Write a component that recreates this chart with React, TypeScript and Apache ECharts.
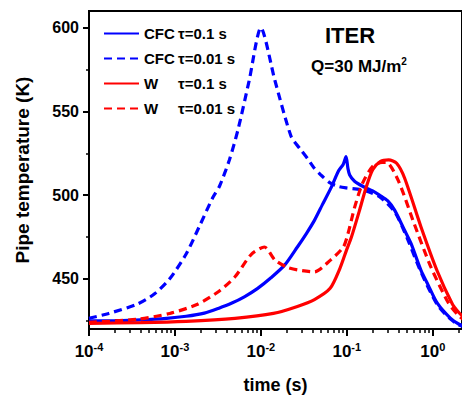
import React, { useEffect, useRef } from "react";
import * as echarts from "echarts";

// ---- data (time in s, temperature in K) ----
const cfc01Time = [0.0001, 0.0002, 0.0004, 0.0008, 0.00135, 0.0022, 0.0032, 0.0046, 0.0065, 0.0091, 0.0131, 0.019, 0.0266, 0.034, 0.042, 0.052, 0.065, 0.08, 0.091, 0.098, 0.103, 0.108, 0.123, 0.153, 0.2, 0.24, 0.3, 0.36, 0.47, 0.56, 0.73, 0.88, 1.13, 1.6, 2.0, 2.3];
const cfc01Temp = [424.8, 425.0, 425.5, 426.4, 427.6, 429.5, 432.3, 435.5, 439.4, 444.1, 450.6, 458.3, 469, 477.2, 484.9, 494.3, 504, 514.4, 518.5, 523, 516, 512, 508.3, 505.3, 502.5, 500, 496.5, 491, 479, 471, 455, 446.5, 435.4, 426.5, 423, 422];

const cfc001Time = [0.0001, 0.00017, 0.00037, 0.00058, 0.00087, 0.00135, 0.0019, 0.00275, 0.0033, 0.0043, 0.0054, 0.0073, 0.01, 0.0146, 0.0225, 0.0282, 0.0347, 0.041, 0.0515, 0.064, 0.0798, 0.099, 0.153, 0.24, 0.36, 0.47, 0.73, 1.13, 1.6, 2.0, 2.3];
const cfc001Temp = [426.4, 429.3, 435, 441, 450, 464.8, 480.7, 498.4, 505.3, 521, 538.8, 568.3, 600, 568.3, 535, 528, 522, 516.7, 511.4, 507.3, 505.2, 504.3, 503, 499, 490, 478, 454, 434.5, 426, 422.5, 421.5];

const w01Time = [0.0001, 0.0004, 0.00135, 0.005, 0.014, 0.0266, 0.042, 0.064, 0.083, 0.099, 0.113, 0.14, 0.167, 0.2, 0.247, 0.307, 0.38, 0.47, 0.73, 1.13, 1.69, 2.0, 2.3];
const w01Temp = [423.4, 423.8, 424.6, 426.4, 429.3, 433.5, 437.6, 444.3, 456.1, 467, 474.8, 490.6, 504.3, 515.1, 520.1, 521, 519, 510.2, 481, 454.5, 435, 430, 427];

const w001Time = [0.0001, 0.00037, 0.00087, 0.0018, 0.0032, 0.005, 0.0078, 0.011, 0.0146, 0.02, 0.0266, 0.042, 0.064, 0.091, 0.103, 0.123, 0.153, 0.2, 0.257, 0.29, 0.4, 0.61, 0.95, 1.53, 2.0, 2.3];
const w001Temp = [424, 425.8, 429.3, 434.6, 442.3, 451.2, 464.8, 469, 461.2, 457, 455.3, 454.1, 461, 468.9, 476.8, 492.5, 507.3, 517.2, 519.5, 519.5, 508.3, 482.7, 457.1, 435.4, 428, 425.5];

const seriesNames = ["CFC τ=0.1 s", "CFC τ=0.01 s", "W τ=0.1 s", "W τ=0.01 s"];

// ---- axes ----
const xMajorTicks = [0.0001, 0.001, 0.01, 0.1, 1];
const xMinorMultipliers = [2, 3, 4, 5, 6, 7, 8, 9];
const yMajorTicks = [450, 500, 550, 600];
const yMinorTicks = [425, 475, 525, 575];
const xMin = 0.0001;
const xMax = 2.19;
const yMin = 420;
const yMax = 610;

const FONT = "'Liberation Sans', Arial, Helvetica, sans-serif";
const BLUE = "#0000ff";
const RED = "#ff0000";

function pairs(t: number[], v: number[]) {
  return t.map((x, i) => [x, v[i]]);
}

export default function App() {
  const ref = useRef<HTMLDivElement>(null);

  useEffect(() => {
    if (!ref.current) return;
    const chart = echarts.init(ref.current, null, { renderer: "svg" });

    const xMinorTicks: number[] = [];
    xMajorTicks.forEach((d) => {
      xMinorMultipliers.forEach((m) => {
        const v = d * m;
        if (v < xMax) xMinorTicks.push(v);
      });
    });

    const dash = [8, 5];
    const mk = (name: string, data: number[][], color: string, dashed: boolean) => ({
      name,
      type: "line",
      xAxisIndex: 0,
      yAxisIndex: 0,
      data,
      symbol: "none",
      showSymbol: false,
      smooth: 0.25,
      lineStyle: { color, width: 3.2, type: dashed ? dash : "solid" },
      itemStyle: { color },
    });

    chart.setOption({
      animation: false,
      backgroundColor: "#ffffff",
      textStyle: { fontFamily: FONT },
      grid: {
        left: 89,
        top: 11,
        bottom: 66.5,
        right: -10,
        show: true,
        borderColor: "#000",
        borderWidth: 2,
        backgroundColor: "transparent",
      },
      legend: {
        orient: "vertical",
        left: 98,
        top: 21,
        itemWidth: 35,
        itemHeight: 14,
        itemGap: 10,
        data: seriesNames,
        itemStyle: { opacity: 0, color: "transparent", borderWidth: 0 },
        textStyle: {
          color: "#000",
          fontSize: 15,
          fontWeight: "bold",
          fontFamily: FONT,
          rich: {
            m: { width: 34, fontSize: 15, fontWeight: "bold", fontFamily: FONT, color: "#000" },
            v: { fontSize: 15, fontWeight: "bold", fontFamily: FONT, color: "#000" },
          },
        },
        formatter: (name: string) => {
          const i = name.indexOf(" ");
          return `{m|${name.slice(0, i)}}{v|${name.slice(i + 1)}}`;
        },
      },
      xAxis: [
        {
          type: "log",
          logBase: 10,
          min: xMin,
          max: xMax,
          position: "bottom",
          name: "time (s)",
          nameLocation: "middle",
          nameGap: 47,
          nameTextStyle: { fontSize: 18, fontWeight: "bold", color: "#000", fontFamily: FONT },
          axisLine: { show: true, onZero: false, lineStyle: { color: "#000", width: 2 } },
          axisTick: { show: true, inside: false, length: 7, customValues: xMajorTicks, lineStyle: { color: "#000", width: 2 } },
          axisLabel: {
            show: true,
            margin: 12,
            customValues: xMajorTicks,
            formatter: (v: number) => `{b|10}{s|${Math.round(Math.log10(v))}}`,
            rich: {
              b: { fontSize: 17, fontWeight: "bold", lineHeight: 20, color: "#000", fontFamily: FONT },
              s: { fontSize: 11, fontWeight: "bold", lineHeight: 12, verticalAlign: "top", color: "#000", fontFamily: FONT },
            },
          },
          splitLine: { show: false },
          minorTick: { show: false },
        },
        {
          type: "log",
          logBase: 10,
          min: xMin,
          max: xMax,
          position: "bottom",
          axisLine: { show: false },
          axisTick: { show: true, inside: false, length: 4, customValues: xMinorTicks, lineStyle: { color: "#000", width: 1.5 } },
          axisLabel: { show: false },
          splitLine: { show: false },
        },
      ],
      yAxis: [
        {
          type: "value",
          min: yMin,
          max: yMax,
          position: "left",
          name: "Pipe temperature (K)",
          nameLocation: "middle",
          nameGap: 57,
          nameTextStyle: { fontSize: 19, fontWeight: "bold", color: "#000", fontFamily: FONT },
          axisLine: { show: true, onZero: false, lineStyle: { color: "#000", width: 2 } },
          axisTick: { show: true, inside: false, length: 6, customValues: yMajorTicks, lineStyle: { color: "#000", width: 2 } },
          axisLabel: {
            show: true,
            margin: 10,
            customValues: yMajorTicks,
            fontSize: 16,
            fontWeight: "bold",
            color: "#000",
            fontFamily: FONT,
          },
          splitLine: { show: false },
        },
        {
          type: "value",
          min: yMin,
          max: yMax,
          position: "left",
          axisLine: { show: false },
          axisTick: { show: true, inside: false, length: 3, customValues: yMinorTicks, lineStyle: { color: "#000", width: 1.5 } },
          axisLabel: { show: false },
          splitLine: { show: false },
        },
      ],
      graphic: [
        {
          type: "text",
          x: 350,
          y: 35,
          style: {
            text: "ITER",
            fill: "#000",
            font: `bold 22px ${FONT}`,
            align: "center",
            verticalAlign: "middle",
            textAlign: "center",
            textVerticalAlign: "middle",
          },
        },
        {
          type: "text",
          x: 359,
          y: 66,
          style: {
            text: "{a|Q=30 MJ/m}{b|2}",
            fill: "#000",
            align: "center",
            verticalAlign: "middle",
            textAlign: "center",
            textVerticalAlign: "middle",
            rich: {
              a: { fontSize: 17, fontWeight: "bold", fontFamily: FONT, lineHeight: 20, fill: "#000" },
              b: { fontSize: 10, fontWeight: "bold", fontFamily: FONT, lineHeight: 12, verticalAlign: "top", fill: "#000" },
            },
          },
        },
      ],
      series: [
        mk(seriesNames[0], pairs(cfc01Time, cfc01Temp), BLUE, false),
        mk(seriesNames[1], pairs(cfc001Time, cfc001Temp), BLUE, true),
        mk(seriesNames[2], pairs(w01Time, w01Temp), RED, false),
        mk(seriesNames[3], pairs(w001Time, w001Temp), RED, true),
      ],
    });

    return () => chart.dispose();
  }, []);

  return (
    <div
      ref={ref}
      style={{ position: "fixed", left: 0, top: 0, width: 462, height: 399, background: "#fff" }}
    />
  );
}
